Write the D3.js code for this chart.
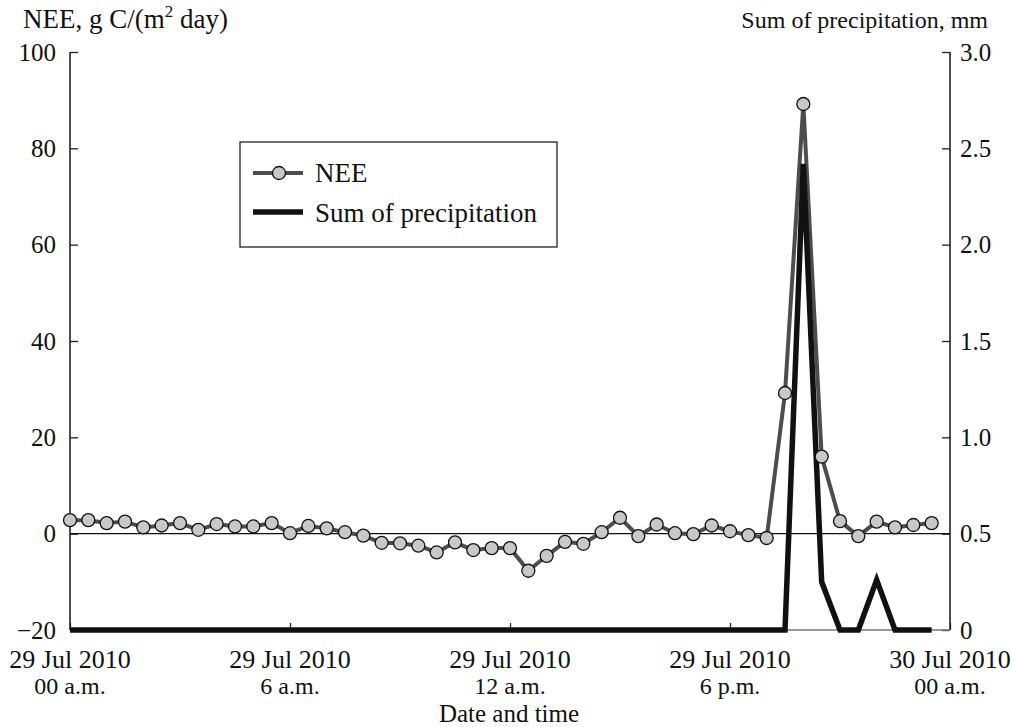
<!DOCTYPE html>
<html>
<head>
<meta charset="utf-8">
<script src="https://cdn.jsdelivr.net/npm/d3@7"></script>
<style>
  body { margin: 0; background: #fff; }
  svg text { font-family: "Liberation Serif", "Times New Roman", Times, serif; }
</style>
</head>
<body>
<svg id="chart" width="1013" height="727"></svg>
<script>
const width = 1013, height = 727;
const svg = d3.select("#chart");

// half-hourly readings, 29 Jul 2010 00:00 .. 23:30
const hours = d3.range(0, 24, 0.5);
const nee = [2.8, 2.8, 2.2, 2.5, 1.3, 1.7, 2.2, 0.8, 2.0, 1.5, 1.5, 2.2,
  0.1, 1.6, 1.1, 0.3, -0.4, -1.9, -2.0, -2.5, -3.9, -1.8, -3.4, -3.0, -3.0,
  -7.7, -4.6, -1.7, -2.1, 0.3, 3.3, -0.5, 1.9, 0.1, -0.1, 1.7, 0.5, -0.3, -0.9,
  29.2, 89.2, 16.0, 2.6, -0.5, 2.5, 1.3, 1.8, 2.2];
const precip = [0, 0, 0, 0, 0, 0, 0, 0, 0, 0, 0, 0,
  0, 0, 0, 0, 0, 0, 0, 0, 0, 0, 0, 0, 0,
  0, 0, 0, 0, 0, 0, 0, 0, 0, 0, 0, 0, 0, 0,
  0, 2.42, 0.25, 0, 0, 0.26, 0, 0, 0];

const xTicks = [0, 6, 12, 18, 24];
const xTickDates = ["29 Jul 2010", "29 Jul 2010", "29 Jul 2010", "29 Jul 2010", "30 Jul 2010"];
const xTickTimes = ["00 a.m.", "6 a.m.", "12 a.m.", "6 p.m.", "00 a.m."];
const leftTicks = [-20, 0, 20, 40, 60, 80, 100];
const rightTicks = [0, 0.5, 1.0, 1.5, 2.0, 2.5, 3.0];

const plotL = 70, plotR = 950, plotT = 52, plotB = 630;

const x = d3.scaleLinear().domain([0, 24]).range([plotL, plotR]);
const yL = d3.scaleLinear().domain([-20, 100]).range([plotB, plotT]);
const yR = d3.scaleLinear().domain([0, 3]).range([plotB, plotT]);

const fs = 25;

// axes
svg.append("g")
  .attr("transform", `translate(${plotL},0)`)
  .call(d3.axisRight(yL).tickValues(leftTicks).tickSize(8).tickFormat(""))
  .call(g => g.select(".domain").remove());
svg.append("g")
  .attr("transform", `translate(${plotR},0)`)
  .call(d3.axisLeft(yR).tickValues(rightTicks).tickSize(8).tickFormat(""))
  .call(g => g.select(".domain").remove());
svg.append("g")
  .attr("transform", `translate(0,${plotB})`)
  .call(d3.axisTop(x).tickValues(xTicks).tickSize(7).tickFormat(""))
  .call(g => g.select(".domain").remove());
svg.selectAll(".tick line").attr("stroke", "#222").attr("stroke-width", 1.3);

svg.append("line").attr("x1", plotL).attr("x2", plotL).attr("y1", plotT).attr("y2", plotB)
  .attr("stroke", "#222").attr("stroke-width", 1.6);
svg.append("line").attr("x1", plotR).attr("x2", plotR).attr("y1", plotT).attr("y2", plotB)
  .attr("stroke", "#222").attr("stroke-width", 1.6);
svg.append("line").attr("x1", plotL).attr("x2", plotR).attr("y1", plotB).attr("y2", plotB)
  .attr("stroke", "#777").attr("stroke-width", 1.3);

// zero line
svg.append("line").attr("x1", plotL).attr("x2", plotR).attr("y1", yL(0)).attr("y2", yL(0))
  .attr("stroke", "#111").attr("stroke-width", 1.1);

// tick labels
svg.append("g").selectAll("text").data(leftTicks).join("text")
  .attr("x", plotL - 14).attr("y", d => yL(d)).attr("dy", "0.35em")
  .attr("text-anchor", "end").attr("font-size", fs).attr("fill", "#111")
  .text(d => d < 0 ? "\u2212" + Math.abs(d) : d);
svg.append("g").selectAll("text").data(rightTicks).join("text")
  .attr("x", plotR + 10).attr("y", d => yR(d)).attr("dy", "0.35em")
  .attr("font-size", fs).attr("fill", "#111")
  .text(d => d === 0 ? "0" : d.toFixed(1));
svg.append("g").selectAll("text").data(xTicks).join("text")
  .attr("x", d => x(d)).attr("y", 668)
  .attr("text-anchor", "middle").attr("font-size", 26).attr("fill", "#111")
  .text((d, i) => xTickDates[i]);
svg.append("g").selectAll("text").data(xTicks).join("text")
  .attr("x", d => x(d)).attr("y", 694)
  .attr("text-anchor", "middle").attr("font-size", 24).attr("fill", "#111")
  .text((d, i) => xTickTimes[i]);

// axis titles
svg.append("text").attr("x", (plotL + plotR) / 2 - 1).attr("y", 722)
  .attr("text-anchor", "middle").attr("font-size", 25).attr("fill", "#111")
  .text("Date and time");
const lt = svg.append("text").attr("x", 23).attr("y", 28)
  .attr("font-size", 27).attr("fill", "#111");
lt.append("tspan").text("NEE, g C/(m");
lt.append("tspan").attr("font-size", 17).attr("dy", -11).text("2");
lt.append("tspan").attr("dy", 11).text(" day)");
svg.append("text").attr("x", 988).attr("y", 28)
  .attr("text-anchor", "end").attr("font-size", 24).attr("fill", "#111")
  .text("Sum of precipitation, mm");

// series
const neeLine = d3.line().x((d, i) => x(hours[i])).y(d => yL(d));
const precipLine = d3.line().x((d, i) => x(hours[i])).y(d => yR(d));

svg.append("path").datum(nee).attr("d", neeLine)
  .attr("fill", "none").attr("stroke", "#4d4d4d").attr("stroke-width", 4)
  .attr("stroke-linejoin", "round");
svg.append("path").datum(precip).attr("d", precipLine)
  .attr("fill", "none").attr("stroke", "#111").attr("stroke-width", 5.5)
  .attr("stroke-linejoin", "miter");
svg.append("g").selectAll("circle").data(nee).join("circle")
  .attr("cx", (d, i) => x(hours[i])).attr("cy", d => yL(d)).attr("r", 6.5)
  .attr("fill", "#c8c8c8").attr("stroke", "#111").attr("stroke-width", 1.3);

// legend
const lg = svg.append("g");
lg.append("rect").attr("x", 240).attr("y", 142).attr("width", 317).attr("height", 105)
  .attr("fill", "#fff").attr("stroke", "#222").attr("stroke-width", 1.3);
lg.append("line").attr("x1", 253).attr("x2", 303).attr("y1", 173).attr("y2", 173)
  .attr("stroke", "#4d4d4d").attr("stroke-width", 4);
lg.append("circle").attr("cx", 279).attr("cy", 173).attr("r", 6.5)
  .attr("fill", "#c8c8c8").attr("stroke", "#111").attr("stroke-width", 1.3);
lg.append("text").attr("x", 315).attr("y", 173).attr("dy", "0.35em")
  .attr("font-size", 27).attr("fill", "#111").text("NEE");
lg.append("line").attr("x1", 253).attr("x2", 303).attr("y1", 212).attr("y2", 212)
  .attr("stroke", "#111").attr("stroke-width", 5.5);
lg.append("text").attr("x", 315).attr("y", 213).attr("dy", "0.35em")
  .attr("font-size", 27).attr("fill", "#111").text("Sum of precipitation");
</script>
</body>
</html>
